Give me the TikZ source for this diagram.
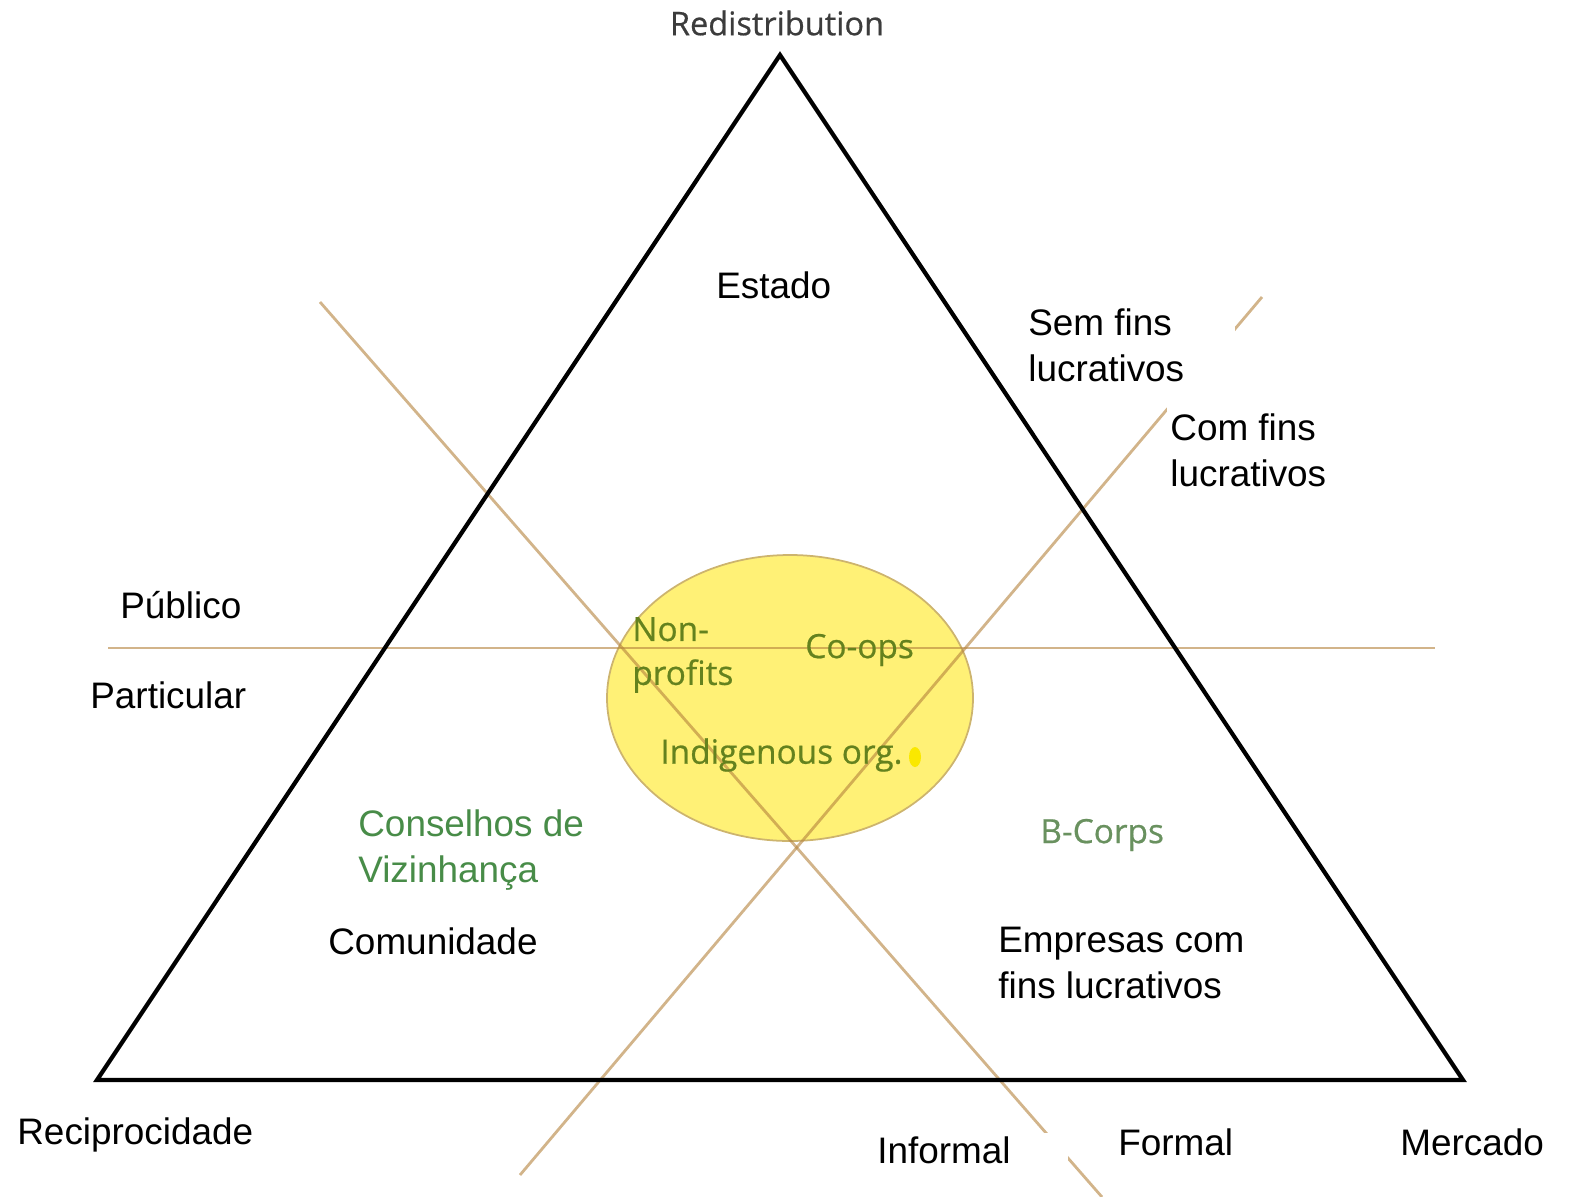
\documentclass[tikz,border=0pt]{standalone}
\usepackage{fontspec}
\setmainfont{Liberation Sans}
\newfontfamily\roundfont[FakeBold=0.6]{Open Sans}
\usetikzlibrary{positioning}
\definecolor{tanline}{RGB}{180,130,60}
\definecolor{ovalfill}{RGB}{255,241,118}
\definecolor{ovalrim}{RGB}{205,180,110}
\definecolor{leafgreen}{RGB}{72,140,72}
\definecolor{olivegreen}{RGB}{100,130,30}
\definecolor{sagegreen}{RGB}{105,145,95}
\definecolor{blobyellow}{RGB}{250,232,0}

\begin{document}
\begin{tikzpicture}[x=0.02cm,y=-0.02cm,
    side/.style={line width=2.4pt,line join=miter},
    cut line/.style={draw=tanline,opacity=0.6,line width=1.6pt},
    main node/.style={anchor=west,inner sep=0pt,align=left,font=\fontsize{21}{26}\selectfont},
    green node/.style={main node,text=leafgreen},
    oval node/.style={anchor=west,inner sep=0pt,align=left,text=olivegreen,font=\roundfont\fontsize{19}{25}\selectfont}]
   \useasboundingbox (0,0) rectangle (1593,1197);
   % corners
   \coordinate (top) at (780,55);
   \coordinate (left) at (97,1080);
   \coordinate (right) at (1463,1080);
   % cut lines
   \coordinate (h1) at (108,648);
   \coordinate (h2) at (1435,648);
   \coordinate (a1) at (320,302);
   \coordinate (a2) at (1102,1197);
   \coordinate (b1) at (1262,297);
   \coordinate (b2) at (520,1175);

   \draw[draw=ovalrim,fill=ovalfill,line width=1pt] (790,698) ellipse [x radius=183,y radius=143];
   \fill[blobyellow] (915,757) ellipse [x radius=6,y radius=10];

   \path[cut line] (h1) edge (h2);
   \path[cut line] (a1) edge (a2);
   \path[cut line] (b1) edge (b2);

   \draw[side] (top) -- (left) -- (right) -- cycle;

   % white patches over the lines
   \fill[white] (1023,298) rectangle (1235,403);
   \fill[white] (1167,403) rectangle (1340,500);
   \fill[white] (860,1133) rectangle (1068,1197);

   \node[anchor=center,inner sep=0pt,text={rgb,255:red,60;green,60;blue,60},font=\roundfont\fontsize{18.5}{20}\selectfont] (redis) at (777,23) {Redistribution};
   \node[main node] (estado) at (716,285) {Estado};
   \node[main node] (sem) at (1028,345) {Sem fins\\lucrativos};
   \node[main node] (com) at (1170,450) {Com fins\\lucrativos};
   \node[main node] (publico) at (120,605) {Público};
   \node[main node] (particular) at (90,695) {Particular};
   \node[green node] (conselhos) at (358,850) {Conselhos de\\Vizinhança};
   \node[main node] (comunidade) at (328,941) {Comunidade};
   \node[main node] (empresas) at (998,963) {Empresas com\\fins lucrativos};
   \node[main node] (recip) at (17,1135) {Reciprocidade};
   \node[main node] (informal) at (877,1150) {Informal};
   \node[main node] (formal) at (1118,1142) {Formal};
   \node[main node] (mercado) at (1400,1142) {Mercado};

   \node[oval node] (nonprofits) at (632,655) {Non-\\profits};
   \node[oval node] (coops) at (805,650) {Co-ops};
   \node[oval node] (indig) at (660,755) {Indigenous org.};
   \node[oval node,text=sagegreen] (bcorps) at (1040,835) {B-Corps};
  \end{tikzpicture}
\end{document}
